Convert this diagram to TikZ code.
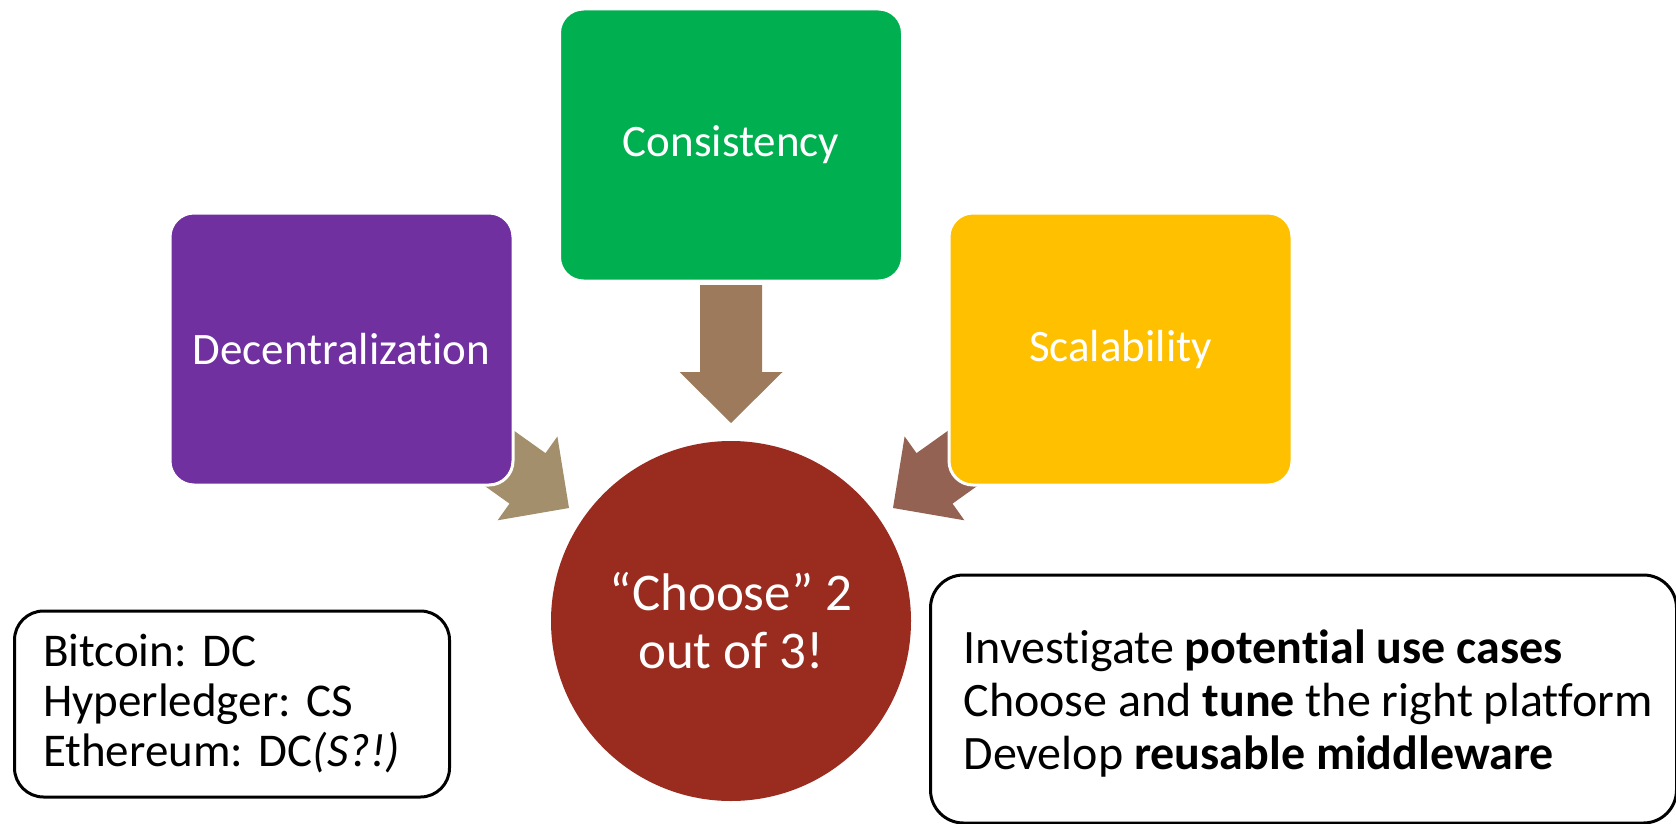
\documentclass[tikz,border=0pt]{standalone}
\usepackage{fontspec}
\setmainfont{Carlito}[Ligatures={NoCommon}]
\frenchspacing
\definecolor{cpurple}{HTML}{7030A0}
\definecolor{cgreen}{HTML}{00B050}
\definecolor{cyellow}{HTML}{FFC000}
\definecolor{cred}{HTML}{9A2B1F}
\definecolor{arrdown}{HTML}{9C7A5B}
\definecolor{arrleft}{HTML}{A38F6B}
\definecolor{arrright}{HTML}{936252}
\tikzset{
  pics/blockarrow/.style={code={
    \fill[#1] (0,0) -- (-51,51.5) -- (-51,31) -- (-138,31) -- (-138,-31) -- (-51,-31) -- (-51,-51.5) -- cycle;}},
  colbox/.style={draw=white, line width=1.5pt, rounded corners=12pt, fill=#1,
    minimum width=171.5pt, minimum height=136pt, text=white, font=\fontsize{22.5}{26}\selectfont, inner sep=0pt},
  txtbox/.style={draw=black, line width=1.5pt, align=left, anchor=west}
}
\begin{document}
\begin{tikzpicture}[x=0.5pt,y=-0.5pt]
\useasboundingbox (0,0) rectangle (1676,824);
% arrow tips
\coordinate (tipL) at (569,508);
\coordinate (tipC) at (731,423);
\coordinate (tipR) at (893,508);
\pic[rotate=-35.5] at (tipL) {blockarrow=arrleft};
\pic[rotate=-90] at (tipC) {blockarrow=arrdown};
\pic[rotate=-144.5] at (tipR) {blockarrow=arrright};
% boxes
\node[colbox=cpurple] (dec) at (341.5,349) {Decentralization};
\node[colbox=cgreen] (con) at (731,145) {Consistency};
\node[colbox=cyellow] (sca) at (1120.5,349) {Scalability};
% circle
\node[circle, fill=cred, minimum size=180pt, inner sep=0pt, text=white, align=center,
  font=\fontsize{26.5}{29}\selectfont] (circ) at (731,621) {“Choose” 2\\out of 3!};
% text boxes
\node[txtbox, rounded corners=14.5pt, minimum width=217.5pt, minimum height=93pt,
  text width=189pt, inner xsep=14.25pt, font=\fontsize{23.5}{25}\selectfont\frenchspacing] (left) at (13,704)
  {\mbox{Bitcoin: DC}\\\mbox{Hyperledger: CS}\\\mbox{Ethereum: DC\textit{(S?!)}}};
\node[draw=black, line width=1.5pt, anchor=west, rounded corners=16.5pt, minimum width=373pt, minimum height=124pt,
  inner xsep=16.5pt, inner ysep=0pt, text height=0pt, text depth=36pt,
  font=\fontsize{24}{26.5}\selectfont] (right) at (929,699)
  {\makebox[340pt][l]{\vtop{\baselineskip=26.5pt
    \hbox{Investigate \textbf{potential use cases}}
    \hbox{Choose and \textbf{tune} the right platform}
    \hbox{Develop \textbf{reusable middleware}}}}};
\end{tikzpicture}
\end{document}
